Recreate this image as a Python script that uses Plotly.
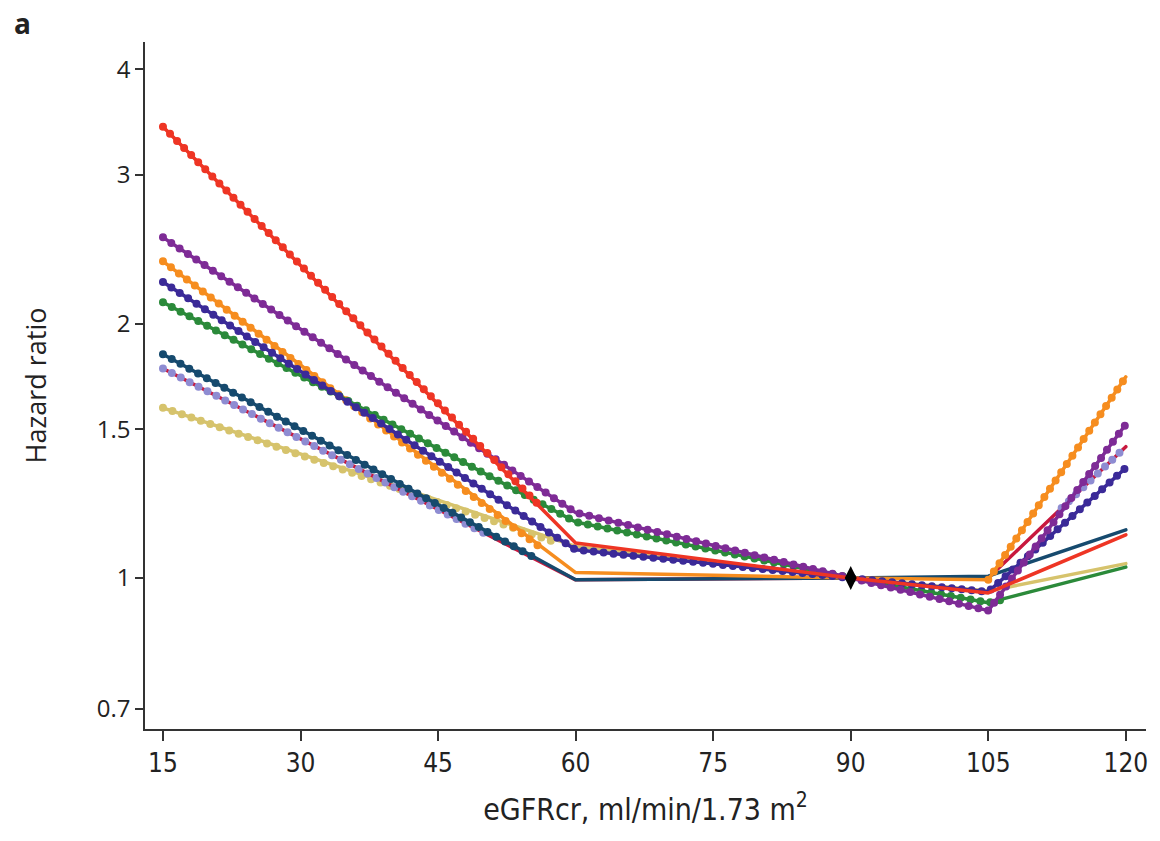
import plotly.graph_objects as go

# ---- data ----
egfr_knots = [15, 60, 90, 105, 120]

hr_khaki = [1.59, 1.09, 1.00, 0.965, 1.04]
hr_crimson = [1.77, 0.995, 1.00, 1.00, 1.43]
hr_teal = [1.84, 0.995, 1.00, 1.005, 1.14]
hr_orange = [2.37, 1.015, 1.00, 0.995, 1.73]
hr_green = [2.12, 1.165, 1.00, 0.935, 1.03]
hr_indigo = [2.24, 1.08, 1.00, 0.963, 1.35]
hr_purple = [2.53, 1.195, 1.00, 0.915, 1.52]
hr_red = [3.42, 1.10, 1.00, 0.96, 1.125]

# significant (dotted) stretches
sig_khaki_x = [15, 58]
sig_khaki_hr = [1.59, 1.10]
sig_crimson_x = [15, 50, None, 113, 120]
sig_crimson_hr = [1.77, 1.13, None, 1.21, 1.43]
sig_teal_x = [15, 56]
sig_teal_hr = [1.84, 1.05]
sig_orange_x = [15, 56, None, 105, 120]
sig_orange_hr = [2.37, 1.09, None, 0.995, 1.73]
sig_green_x = [15, 60, 90, 105, 107]
sig_green_hr = [2.12, 1.165, 1.00, 0.935, 0.945]
sig_indigo_x = egfr_knots
sig_indigo_hr = hr_indigo
sig_purple_x = egfr_knots
sig_purple_hr = hr_purple
sig_red_x = [15, 56]
sig_red_hr = [3.42, 1.22]

ref_x = [90]
ref_hr = [1.0]

x_ticks = [15, 30, 45, 60, 75, 90, 105, 120]
y_ticks = [0.7, 1, 1.5, 2, 3, 4]
y_ticktext = ["0.7", "1", "1.5", "2", "3", "4"]

series = [
    ("khaki", hr_khaki, sig_khaki_x, sig_khaki_hr, "#D6C36C", "#D6C36C"),
    ("crimson", hr_crimson, sig_crimson_x, sig_crimson_hr, "#C8183E", "#8E8CD2"),
    ("teal", hr_teal, sig_teal_x, sig_teal_hr, "#164A6E", "#164A6E"),
    ("orange", hr_orange, sig_orange_x, sig_orange_hr, "#F68D1F", "#F68D1F"),
    ("green", hr_green, sig_green_x, sig_green_hr, "#2B8A3A", "#2B8A3A"),
    ("indigo", hr_indigo, sig_indigo_x, sig_indigo_hr, "#3B2A98", "#3B2A98"),
    ("purple", hr_purple, sig_purple_x, sig_purple_hr, "#7E2B96", "#7E2B96"),
    ("red", hr_red, sig_red_x, sig_red_hr, "#EE3524", "#EE3524"),
]

fig = go.Figure()
for name, hr, sx, sy, lcol, dcol in series:
    fig.add_trace(go.Scatter(
        x=egfr_knots, y=hr, mode="lines", name=name,
        line=dict(color=lcol, width=3.5), hoverinfo="skip"))
    fig.add_trace(go.Scatter(
        x=sx, y=sy, mode="lines", name=name + " sig", connectgaps=False,
        line=dict(color=dcol, width=8, dash="0px,10px"), hoverinfo="skip"))

fig.add_trace(go.Scatter(
    x=ref_x, y=ref_hr, mode="markers", name="reference",
    marker=dict(symbol="diamond-tall", size=17, color="black")))

axis_col = "#333333"
txt_col = "#222222"
fig.update_layout(
    width=1160, height=841,
    paper_bgcolor="white", plot_bgcolor="white",
    showlegend=False,
    margin=dict(l=145, r=12, t=42, b=112),
    xaxis=dict(
        range=[13.04, 122.2], tickvals=x_ticks,
        ticktext=[str(v) for v in x_ticks],
        showgrid=False, zeroline=False,
        showline=True, linecolor=axis_col, linewidth=1.5,
        ticks="outside", ticklen=10, tickwidth=1.5, tickcolor=axis_col,
        tickfont=dict(family="DejaVu Sans Condensed, Roboto, sans-serif", size=26, color=txt_col),
        title=dict(text="eGFRcr, ml/min/1.73 m<sup>2</sup>",
                   font=dict(family="DejaVu Sans Condensed, Roboto, sans-serif", size=30, color=txt_col),
                   standoff=22),
    ),
    yaxis=dict(
        type="log", range=[-0.1787, 0.6343],
        tickvals=y_ticks, ticktext=y_ticktext,
        showgrid=False, zeroline=False,
        showline=True, linecolor=axis_col, linewidth=1.5,
        ticks="outside", ticklen=8, tickwidth=1.5, tickcolor=axis_col,
        tickfont=dict(family="Open Sans, sans-serif", size=24, color=txt_col),
        title=dict(text="Hazard ratio",
                   font=dict(family="Open Sans, sans-serif", size=27, color=txt_col),
                   standoff=42),
    ),
    annotations=[dict(
        text="<b>a</b>", xref="paper", yref="paper",
        x=-0.133, y=1.058, xanchor="left", yanchor="top", showarrow=False,
        font=dict(family="Open Sans, sans-serif", size=28, color=txt_col))],
)

post = ("document.body.style.margin='0';"
        "var s=document.createElement('style');"
        "s.innerHTML='body{margin:0}.scatterlayer .js-line{stroke-linecap:round;stroke-linejoin:round;}';"
        "document.head.appendChild(s);")
fig.write_html("out.html", post_script=post, config={"displayModeBar": False})
